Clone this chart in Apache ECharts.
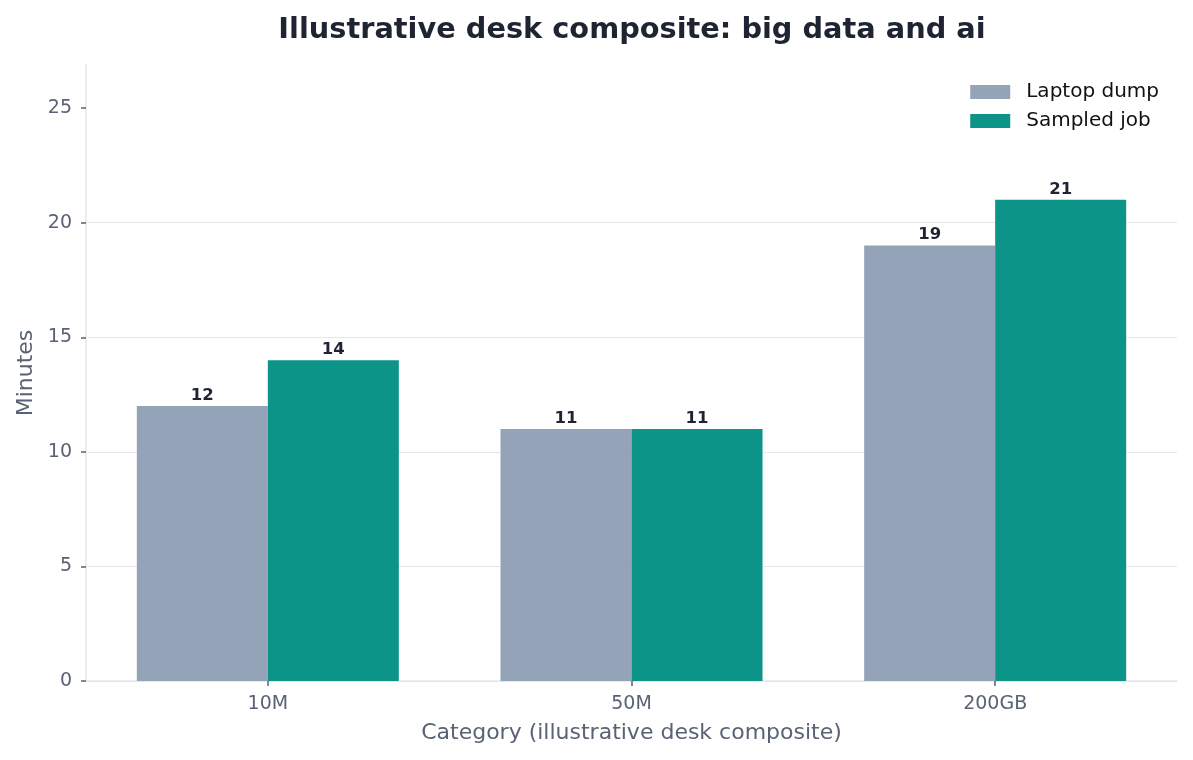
<!DOCTYPE html>
<html>
<head>
<meta charset="utf-8">
<script src="https://cdn.jsdelivr.net/npm/echarts@6/dist/echarts.min.js"></script>
<style>
  html, body { margin: 0; padding: 0; background: #fff; }
  #main { width: 1193px; height: 760px; }
</style>
</head>
<body>
<div id="main"></div>
<script>
var chart = echarts.init(document.getElementById('main'));

// data
var categories = ['10M', '50M', '200GB'];
var laptopDump = [12, 11, 19];
var sampledJob = [14, 11, 21];
var yTicks = [0, 5, 10, 15, 20, 25];

var fontFamily = 'DejaVu Sans',
    tickColor = '#5a6275',
    spineColor = '#e5e7eb',
    labelColor = '#1f2433';

var barLabel = {
    show: true,
    position: 'top',
    distance: 2,
    color: labelColor,
    fontWeight: 'bold',
    fontSize: 16.5,
    fontFamily: fontFamily
};

var option = {
    animation: false,
    backgroundColor: '#fff',
    color: ['#94a3b8', '#0d9488'],
    textStyle: { fontFamily: fontFamily },
    title: {
        text: 'Illustrative desk composite: big data and ai',
        left: 627,
        top: 11,
        textAlign: 'center',
        textStyle: {
            fontSize: 28.8,
            fontWeight: 'bold',
            color: labelColor,
            fontFamily: fontFamily
        }
    },
    legend: {
        orient: 'vertical',
        right: 34,
        top: 82,
        padding: 0,
        itemWidth: 40,
        itemHeight: 14,
        itemGap: 9,
        icon: 'rect',
        textStyle: { fontSize: 20, color: '#111', fontFamily: fontFamily, padding: [0, 0, 0, 11] },
        data: ['Laptop dump', 'Sampled job']
    },
    grid: { left: 86, right: 16, top: 65, bottom: 79, containLabel: false },
    xAxis: {
        type: 'category',
        data: categories,
        name: 'Category (illustrative desk composite)',
        nameLocation: 'middle',
        nameGap: 41,
        nameTextStyle: { fontSize: 22, color: tickColor, fontFamily: fontFamily },
        axisLine: { show: true, lineStyle: { color: spineColor, width: 1.5 } },
        axisTick: { show: true, alignWithLabel: true, length: 5, lineStyle: { color: tickColor, width: 1.5 } },
        axisLabel: { fontSize: 19, color: tickColor, margin: 14, fontFamily: fontFamily },
        splitLine: { show: false }
    },
    yAxis: {
        type: 'value',
        min: 0,
        max: 26.88,
        interval: 5,
        name: 'Minutes',
        nameLocation: 'middle',
        nameGap: 48,
        nameTextStyle: { fontSize: 22, color: tickColor, fontFamily: fontFamily },
        axisLine: { show: true, lineStyle: { color: spineColor, width: 1.5 } },
        axisTick: { show: true, length: 5, customValues: yTicks, lineStyle: { color: tickColor, width: 1.5 } },
        axisLabel: { fontSize: 19, color: tickColor, margin: 14, customValues: yTicks, fontFamily: fontFamily },
        splitLine: { show: true, showMaxLine: false, lineStyle: { color: spineColor, width: 1.2 } }
    },
    series: [{
        name: 'Laptop dump',
        type: 'bar',
        barWidth: 131,
        barGap: '0%',
        label: barLabel,
        data: laptopDump
    }, {
        name: 'Sampled job',
        type: 'bar',
        barWidth: 131,
        barGap: '0%',
        label: barLabel,
        data: sampledJob
    }]
};
chart.setOption(option);
</script>
</body>
</html>
